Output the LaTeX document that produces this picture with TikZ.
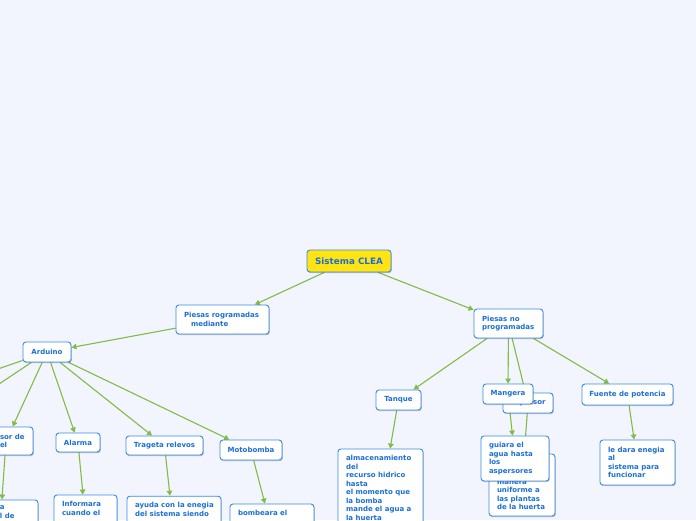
\documentclass[tikz,border=0pt]{standalone}
\usepackage{fontspec}
\setmainfont{DejaVu Sans}
\usetikzlibrary{arrows.meta,shadows}
\definecolor{bgc}{HTML}{F2F5FD}
\definecolor{bordc}{HTML}{3A8BE6}
\definecolor{txtc}{HTML}{1B6FD6}
\definecolor{edgec}{HTML}{82BC45}
\definecolor{rootc}{HTML}{FFE312}
\pgfdeclarelayer{bglayer}
\pgfdeclarelayer{edgelayer}
\pgfsetlayers{bglayer,edgelayer,main}
\tikzset{
  box/.style={draw=bordc, line width=0.9pt, fill=white, rounded corners=3pt,
    inner sep=0pt, text=txtc, font=\fontsize{7}{8.5}\selectfont\bfseries, align=center,
    drop shadow={shadow xshift=0.8pt, shadow yshift=-1.2pt, fill=black, opacity=0.22}},
  wh/.style 2 args={minimum width=#1pt, minimum height=#2pt},
  conn/.style={draw=edgec, line width=1.1pt, -{Triangle[length=5pt,width=5.5pt]}},
}
\begin{document}
\begin{tikzpicture}[x=1pt,y=-1pt]
\begin{pgfonlayer}{bglayer}
\fill[bgc] (0,0) rectangle (696,520);
\end{pgfonlayer}
\useasboundingbox (0,0) rectangle (696,520);

% top
\node[box, wh={84}{22}, fill=rootc, font=\fontsize{8.8}{10}\selectfont\bfseries] (root) at (349,261) {Sistema CLEA};
\node[box, wh={93}{29}] (pr) at (222.5,319.5) {\parbox{77pt}{\mbox{Piesas rogramadas}\\\mbox{\hspace*{7pt}mediante}}};
\node[box, wh={69}{29}] (pn) at (508.5,323.5) {\parbox{53pt}{\mbox{Piesas no}\\\mbox{programadas}}};

% left branch
\node[box, wh={48}{20}] (ard) at (47,352) {Arduino};
\node[box, wh={54}{28}] (sen) at (6,441) {\parbox{42pt}{\mbox{\hspace*{15pt}sor de}\\\mbox{\hspace*{15pt}el}}};
\node[box, wh={44}{19}] (ala) at (78,442.5) {Alarma};
\node[box, wh={77}{19}] (tra) at (164.5,445.5) {Trageta relevos};
\node[box, wh={62}{20}] (mot) at (251,450) {Motobomba};
\node[box, wh={75}{40}] (senb) at (0.5,520) {\parbox[c][28pt][t]{63pt}{\mbox{\hspace*{31pt}a}\\\mbox{\hspace*{31pt}l de}}};
\node[box, wh={63}{52.5}] (inf) at (85.5,521.25) {\parbox[c][40pt][t]{47pt}{\mbox{Informara}\\\mbox{cuando el}}};
\node[box, wh={94}{73}] (ayu) at (174,532.7) {\parbox[c][61pt][t]{78pt}{\mbox{ayuda con la enegia}\\\mbox{del sistema siendo}}};
\node[box, wh={84}{54}] (bom) at (272,531) {\parbox[c][42pt][t]{68pt}{\mbox{bombeara el}}};
\coordinate (offA) at (-60,389);
\coordinate (offB) at (-40,410);

% right branch
\node[box, wh={45}{20}] (tan) at (398.5,400) {Tanque};
\node[box, wh={50}{20}] (asp) at (528,403) {Aspersor};
\node[box, wh={50}{20}] (man) at (508,394) {Mangera};
\node[box, wh={91}{21}] (fue) at (627.5,394.5) {Fuente de potencia};
\node[box, wh={85}{110}] (alm) at (380.5,504) {\parbox[c][97pt][t]{69pt}{\mbox{almacenamiento}\\\mbox{del}\\\mbox{recurso hidrico}\\\mbox{hasta}\\\mbox{el momento que}\\\mbox{la bomba}\\\mbox{mande el agua a}\\\mbox{la huerta}}};
\node[box, wh={66}{62}] (manb) at (522,485) {\parbox[c][50pt][b]{50pt}{\mbox{manera}\\\mbox{uniforme a}\\\mbox{las plantas}\\\mbox{de la huerta}}};
\node[box, wh={68}{45}] (gui) at (515,458.5) {\parbox{52pt}{\mbox{guiara el}\\\mbox{agua hasta}\\\mbox{los}\\\mbox{aspersores}}};
\node[box, wh={75}{45}] (led) at (637.5,462.5) {\parbox{59pt}{\mbox{le dara enegia}\\\mbox{al}\\\mbox{sistema para}\\\mbox{funcionar}}};

\begin{pgfonlayer}{edgelayer}
\draw[conn] (root) -- (pr);
\draw[conn] (root) -- (pn);
\draw[conn] (pr) -- (ard);
\draw[conn] (ard) -- (offA);
\draw[conn] (ard) -- (offB);
\draw[conn] (ard) -- (sen);
\draw[conn] (ard) -- (ala);
\draw[conn] (ard) -- (tra);
\draw[conn] (ard) -- (mot);
\draw[conn] (sen) -- (senb);
\draw[conn] (ala) -- (inf);
\draw[conn] (tra) -- (ayu);
\draw[conn] (mot) -- (bom);
\draw[conn] (pn) -- (tan);
\draw[conn] (pn) -- (man);
\draw[conn] (pn) -- (asp);
\draw[conn] (pn) -- (fue);
\draw[conn] (tan) -- (alm);
\draw[conn] (man) -- (gui);
\draw[conn] (asp) -- (manb);
\draw[conn] (fue) -- (led);
\end{pgfonlayer}
\end{tikzpicture}
\end{document}
